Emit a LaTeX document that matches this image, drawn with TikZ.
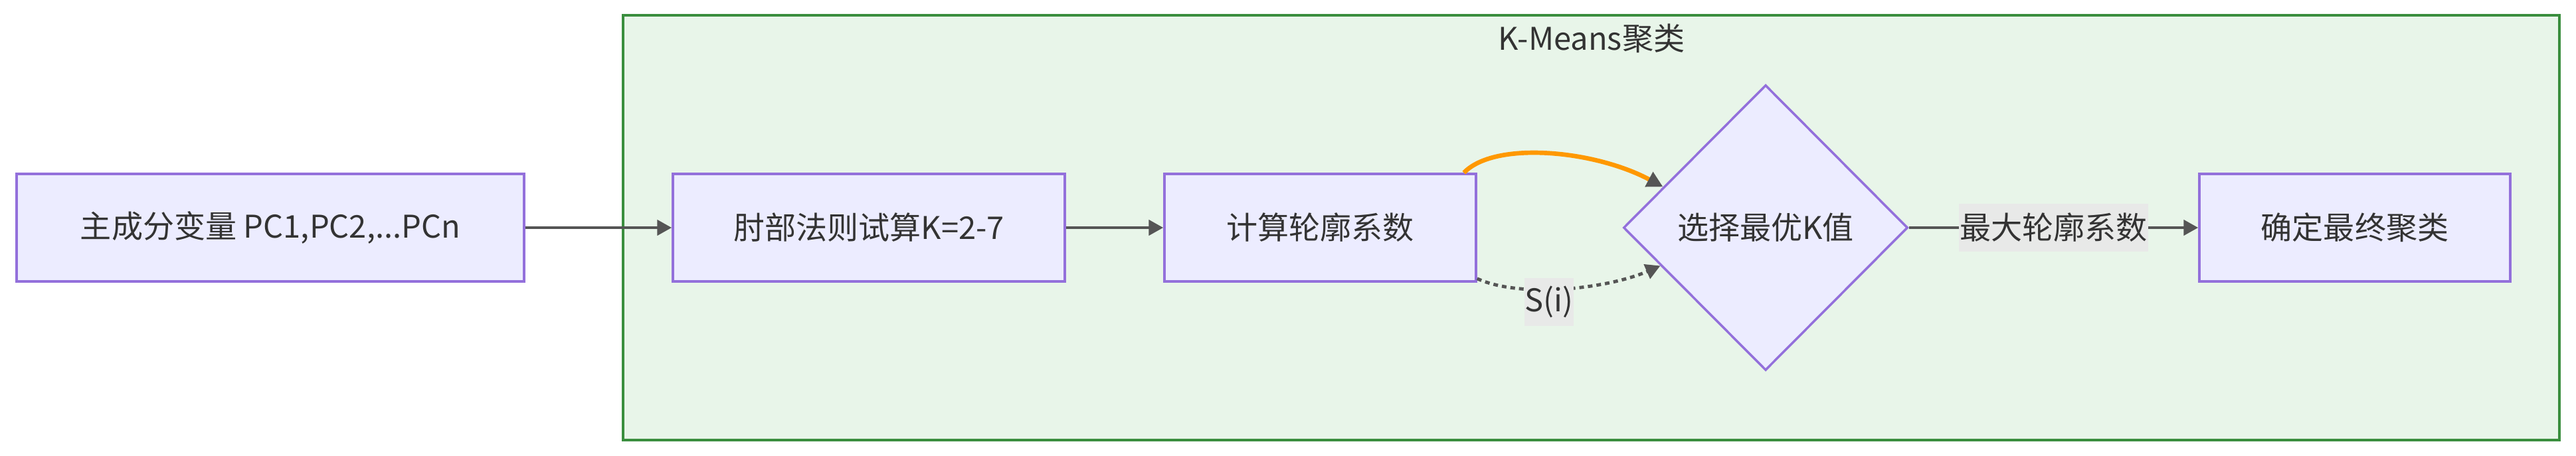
\documentclass[tikz,border=0pt]{standalone}
\usepackage{fontspec}
\newfontfamily\cjk{Noto Sans CJK SC}
\usetikzlibrary{arrows.meta,shapes.geometric,calc}
\definecolor{boxfill}{HTML}{ECECFF}
\definecolor{boxline}{HTML}{9370DB}
\definecolor{txt}{HTML}{333333}
\definecolor{edge}{HTML}{555555}
\definecolor{clfill}{HTML}{E8F5E9}
\definecolor{clline}{HTML}{3A8E3E}
\definecolor{lblbg}{HTML}{E8E9E8}
\definecolor{orangeedge}{HTML}{FF9800}
\tikzset{
  base/.style={font=\cjk\fontsize{13.4pt}{16pt}\selectfont, text=txt},
  procbox/.style={base, draw=boxline, fill=boxfill, line width=1pt, minimum height=1.62cm, inner sep=0pt},
  decision/.style={base, diamond, draw=boxline, fill=boxfill, line width=1pt, minimum width=4.28cm, minimum height=4.30cm, inner sep=0pt},
  flow/.style={draw=edge, line width=1.4pt, -{Triangle[length=0.22cm,width=0.23cm]}},
  lbl/.style={base, fill=lblbg, inner xsep=0.01cm, inner ysep=0pt, minimum height=0.72cm},
}
\begin{document}
\begin{tikzpicture}
\useasboundingbox (0,0) rectangle (38.78,-6.87);
% cluster
\node[draw=clline, fill=clfill, line width=1.05pt, minimum width=29.15cm, minimum height=6.40cm, inner sep=0pt] (cl) at (23.955,-3.43) {};
\node[base] (cltitle) at (23.96,-0.58) {K-Means聚类};
% nodes
\node[procbox, minimum width=7.64cm] (a) at (4.07,-3.43) {主成分变量 PC1,PC2,...PCn};
\node[procbox, minimum width=5.90cm] (b) at (13.08,-3.43) {肘部法则试算K=2-7};
\node[procbox, minimum width=4.69cm] (c) at (19.875,-3.43) {计算轮廓系数};
\node[decision] (d) at (26.58,-3.43) {选择最优K值};
\node[procbox, minimum width=4.68cm] (e) at (35.45,-3.43) {确定最终聚类};
% edges
\draw[flow] (a) -- (b);
\draw[flow] (b) -- (c);
\draw[flow] (d) -- node[lbl] (l1) {最大轮廓系数} (e);
\coordinate (ostart) at ([xshift=-0.2cm]c.north east);
\coordinate (oend) at ($(d.west)!0.284!(d.north)$);
\draw[draw=orangeedge, line width=1.9pt, -{Triangle[length=0.24cm,width=0.24cm,color=edge]}]
  (ostart) .. controls (22.50,-2.12) and (24.00,-2.26) .. (oend);
\coordinate (dstart) at ([yshift=0.06cm]c.south east);
\coordinate (dend) at ($(d.west)!0.265!(d.south)$);
\draw[draw=edge, line width=1.4pt, dash pattern=on 0.07cm off 0.06cm, -{Triangle[length=0.22cm,width=0.23cm]}]
  (dstart) .. controls (22.90,-4.50) and (24.20,-4.35) .. (dend);
\node[lbl] (l2) at (23.32,-4.55) {S(i)};
\end{tikzpicture}
\end{document}
